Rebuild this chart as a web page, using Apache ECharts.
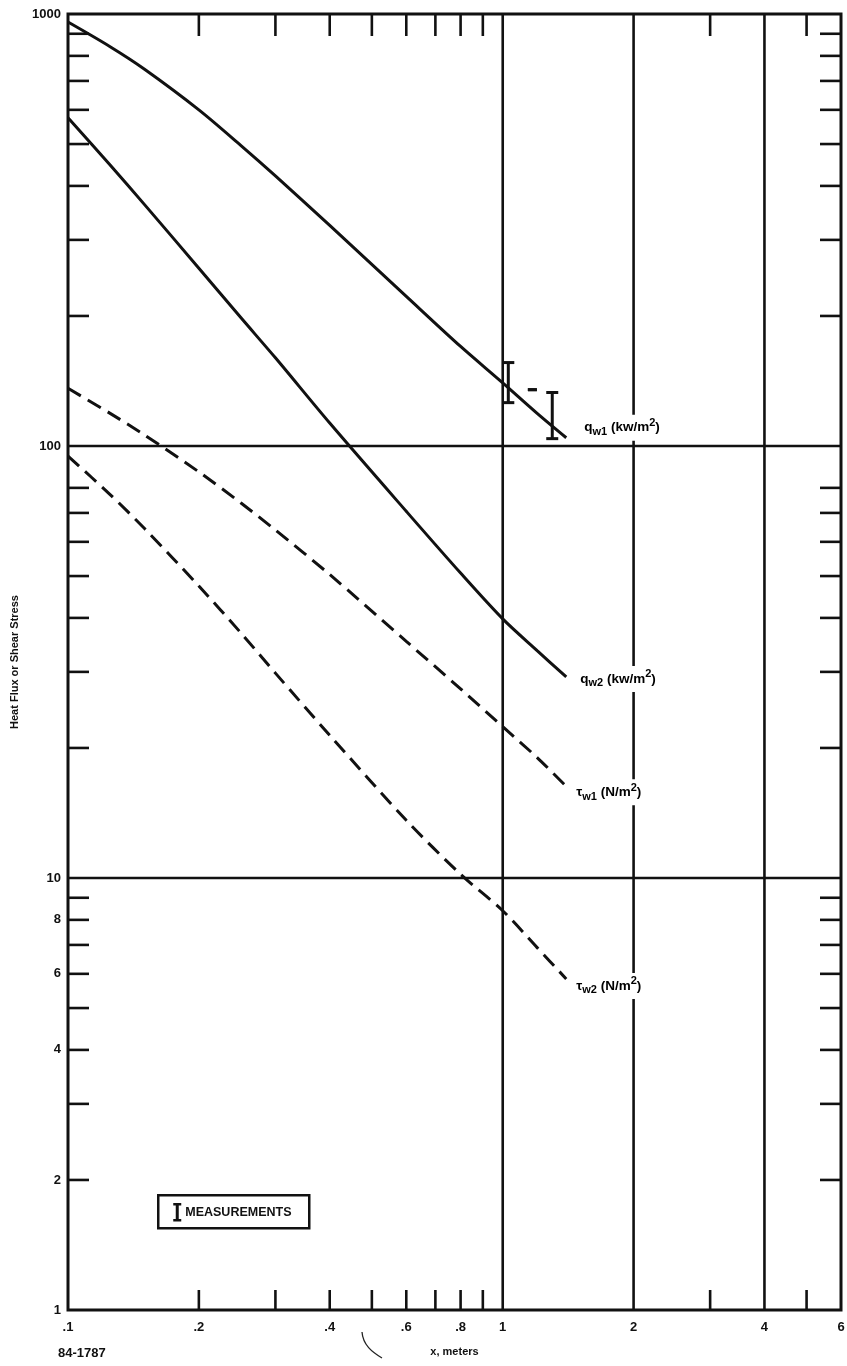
<!DOCTYPE html>
<html>
<head>
<meta charset="utf-8">
<script src="https://cdn.jsdelivr.net/npm/echarts@6/dist/echarts.min.js"></script>
<style>
  html, body { margin: 0; padding: 0; background: #fff; }
  #chart { width: 847px; height: 1366px; }
</style>
</head>
<body>
<div id="chart"></div>
<script>
// Wall heat flux (kW/m^2) and shear stress (N/m^2) versus distance x (m)
const xStations = [0.1, 0.125, 0.15, 0.2, 0.25, 0.3, 0.4, 0.6, 0.8, 1.0, 1.2, 1.4];
const qw1 = [958, 840, 745, 600, 496, 422, 324, 222, 170, 140, 119, 104.5];
const qw2 = [575, 447, 362, 258, 198, 160, 113, 70.6, 50.8, 39.8, 33.6, 29.2];
const tauw1 = [136, 119, 106, 87.1, 73.8, 63.9, 50.4, 35.3, 27.4, 22.4, 19.0, 16.3];
const tauw2 = [94.8, 77.2, 64.4, 47.4, 36.9, 29.8, 21.4, 13.6, 10.2, 8.4, 6.9, 5.84];

// Measured heat flux ranges: [x, low, high]
const measurements = [[1.03, 126, 156], [1.17, 135, 135], [1.3, 104, 133]];

// Axis ticks and labels
const xMinorTicks = [0.2, 0.3, 0.4, 0.5, 0.6, 0.7, 0.8, 0.9, 3, 5];
const xGridLines = [1, 2, 4];
const yMinorTicks = [900, 800, 700, 600, 500, 400, 300, 200,
                     80, 70, 60, 50, 40, 30, 20,
                     9, 8, 7, 6, 5, 4, 3, 2];
const yGridLines = [10, 100];
const xTickValues = [0.1, 0.2, 0.4, 0.6, 0.8, 1, 2, 4, 6];
const xTickText = ['.1', '.2', '.4', '.6', '.8', '1', '2', '4', '6'];
const yTickValues = [1000, 100, 10, 8, 6, 4, 2, 1];
const yTickText = ['1000', '100', '10', '8', '6', '4', '2', '1'];

const curveNames = ['qw1', 'qw2', 'tauw1', 'tauw2'];
const curveLabels = [
  '{b|q}{sub|w1}{b| (kw/m}{sup|2}{b|)}',
  '{b|q}{sub|w2}{b| (kw/m}{sup|2}{b|)}',
  '{b|\u03c4}{sub|w1}{b| (N/m}{sup|2}{b|)}',
  '{b|\u03c4}{sub|w2}{b| (N/m}{sup|2}{b|)}'
];

// Label placement relative to each curve's end (pixels)
const labelOffsets = [[16, -10], [12, 2], [8, 6], [8, 7]];

const INK = '#111';
const FONT = '"Liberation Sans", Arial, Helvetica, sans-serif';

const RICH = {
  b: { fontSize: 13.5, fontWeight: 'bold', fontFamily: FONT, color: INK, lineHeight: 20, verticalAlign: 'middle' },
  sub: { fontSize: 11, fontWeight: 'bold', fontFamily: FONT, color: INK, lineHeight: 11, verticalAlign: 'bottom' },
  sup: { fontSize: 11, fontWeight: 'bold', fontFamily: FONT, color: INK, lineHeight: 11, verticalAlign: 'top' }
};

function pairs(xs, ys) { return xs.map((x, i) => [x, ys[i]]); }

function lineEl(x1, y1, x2, y2, w) {
  return { type: 'line', shape: { x1, y1, x2, y2 }, style: { stroke: INK, lineWidth: w, lineCap: 'butt' } };
}

const chart = echarts.init(document.getElementById('chart'), null, { renderer: 'canvas' });

const curveSeries = [qw1, qw2, tauw1, tauw2].map((ys, i) => ({
  type: 'line',
  name: curveNames[i],
  data: pairs(xStations, ys),
  smooth: 0.3,
  showSymbol: false,
  symbol: 'none',
  z: 5,
  lineStyle: { color: INK, width: 3, type: i < 2 ? 'solid' : [15, 8], cap: 'butt' }
}));

chart.setOption({
  animation: false,
  backgroundColor: '#fff',
  grid: { left: 68, right: 6, top: 14, bottom: 56, show: true, borderColor: INK, borderWidth: 3, backgroundColor: 'transparent' },
  xAxis: {
    type: 'log', logBase: 10, min: 0.1, max: 6,
    name: 'x, meters', nameLocation: 'middle', nameGap: 36,
    nameTextStyle: { fontFamily: FONT, fontWeight: 'bold', fontSize: 11, color: INK },
    axisLine: { show: false }, axisTick: { show: false }, axisLabel: { show: false }, splitLine: { show: false }
  },
  yAxis: {
    type: 'log', logBase: 10, min: 1, max: 1000,
    name: 'Heat Flux or Shear Stress', nameLocation: 'middle', nameGap: 48, nameRotate: 90,
    nameTextStyle: { fontFamily: FONT, fontWeight: 'bold', fontSize: 11, color: INK },
    axisLine: { show: false }, axisTick: { show: false }, axisLabel: { show: false }, splitLine: { show: false }
  },
  series: [
    // Minor ticks along bottom and top edges
    {
      type: 'custom', silent: true, z: 3,
      data: xMinorTicks.map(v => [v, 1]),
      renderItem: (params, api) => {
        const v = api.value(0);
        const b = api.coord([v, 1]);
        const t = api.coord([v, 1000]);
        return { type: 'group', children: [
          lineEl(b[0], b[1], b[0], b[1] - 20, 2.6),
          lineEl(t[0], t[1], t[0], t[1] + 22, 2.6)
        ] };
      }
    },
    // Minor ticks along left and right edges
    {
      type: 'custom', silent: true, z: 3,
      data: yMinorTicks.map(v => [0.1, v]),
      renderItem: (params, api) => {
        const v = api.value(1);
        const l = api.coord([0.1, v]);
        const r = api.coord([6, v]);
        return { type: 'group', children: [
          lineEl(l[0], l[1], l[0] + 21, l[1], 2.6),
          lineEl(r[0], r[1], r[0] - 21, r[1], 2.6)
        ] };
      }
    },
    // Full-height lines at x = 1, 2, 4
    {
      type: 'custom', silent: true, z: 3,
      data: xGridLines.map(v => [v, 1]),
      renderItem: (params, api) => {
        const v = api.value(0);
        const b = api.coord([v, 1]);
        const t = api.coord([v, 1000]);
        return lineEl(b[0], b[1], t[0], t[1], 2.6);
      }
    },
    // Full-width lines at 10 and 100
    {
      type: 'custom', silent: true, z: 3,
      data: yGridLines.map(v => [0.1, v]),
      renderItem: (params, api) => {
        const v = api.value(1);
        const l = api.coord([0.1, v]);
        const r = api.coord([6, v]);
        return lineEl(l[0], l[1], r[0], r[1], 2.6);
      }
    },
    // x tick labels
    {
      type: 'custom', silent: true, z: 4,
      data: xTickValues.map(v => [v, 1]),
      renderItem: (params, api) => {
        const p = api.coord([api.value(0), 1]);
        return { type: 'text', x: p[0], y: p[1] + 17, style: {
          text: xTickText[params.dataIndex], fill: INK, font: 'bold 13px ' + FONT,
          align: 'center', verticalAlign: 'middle'
        } };
      }
    },
    // y tick labels
    {
      type: 'custom', silent: true, z: 4,
      data: yTickValues.map(v => [0.1, v]),
      renderItem: (params, api) => {
        const p = api.coord([0.1, api.value(1)]);
        return { type: 'text', x: p[0] - 7, y: p[1], style: {
          text: yTickText[params.dataIndex], fill: INK, font: 'bold 13px ' + FONT,
          align: 'right', verticalAlign: 'middle'
        } };
      }
    },
    ...curveSeries,
    // Measurement ranges drawn as I-bars
    {
      type: 'custom', silent: true, z: 6,
      data: measurements,
      encode: { x: 0, y: [1, 2] },
      renderItem: (params, api) => {
        const x = api.value(0);
        const lo = api.coord([x, api.value(1)]);
        const hi = api.coord([x, api.value(2)]);
        const half = lo[1] === hi[1] ? 4.5 : 6;
        const children = [
          lineEl(hi[0] - half, hi[1], hi[0] + half, hi[1], 3),
          lineEl(lo[0] - half, lo[1], lo[0] + half, lo[1], 3)
        ];
        if (lo[1] !== hi[1]) children.push(lineEl(lo[0], lo[1], hi[0], hi[1], 3));
        return { type: 'group', children };
      }
    },
    // Curve labels at the end of each curve, on a white ground that breaks the grid lines
    {
      type: 'custom', silent: true, z: 6,
      data: [qw1, qw2, tauw1, tauw2].map(ys => [xStations[xStations.length - 1], ys[ys.length - 1]]),
      renderItem: (params, api) => {
        const i = params.dataIndex;
        const p = api.coord([api.value(0), api.value(1)]);
        return { type: 'text', x: p[0] + labelOffsets[i][0], y: p[1] + labelOffsets[i][1], style: {
          text: curveLabels[i], rich: RICH, align: 'left', verticalAlign: 'middle',
          backgroundColor: '#fff', padding: [3, 2, 3, 2]
        } };
      }
    }
  ],
  graphic: [
    // Legend box
    {
      type: 'group', left: 157, top: 1194, children: [
        { type: 'rect', shape: { x: 0, y: 0, width: 151, height: 33 }, style: { fill: '#fff', stroke: INK, lineWidth: 2.5 } },
        { type: 'line', shape: { x1: 19, y1: 9, x2: 19, y2: 25 }, style: { stroke: INK, lineWidth: 3 } },
        { type: 'line', shape: { x1: 15, y1: 9, x2: 23, y2: 9 }, style: { stroke: INK, lineWidth: 2.5 } },
        { type: 'line', shape: { x1: 15, y1: 25, x2: 23, y2: 25 }, style: { stroke: INK, lineWidth: 2.5 } },
        { type: 'text', x: 27, y: 17, style: { text: 'MEASUREMENTS', fill: INK, font: 'bold 12.5px ' + FONT, verticalAlign: 'middle', align: 'left' } }
      ]
    },
    { type: 'text', left: 58, top: 1347, style: { text: '84-1787', fill: INK, font: 'bold 13px ' + FONT } },
    { type: 'bezierCurve', shape: { x1: 362, y1: 1332, x2: 382, y2: 1358, cpx1: 363, cpy1: 1345, cpx2: 372, cpy2: 1352 },
      style: { stroke: '#222', lineWidth: 1.3, fill: null } }
  ]
});
</script>
</body>
</html>
